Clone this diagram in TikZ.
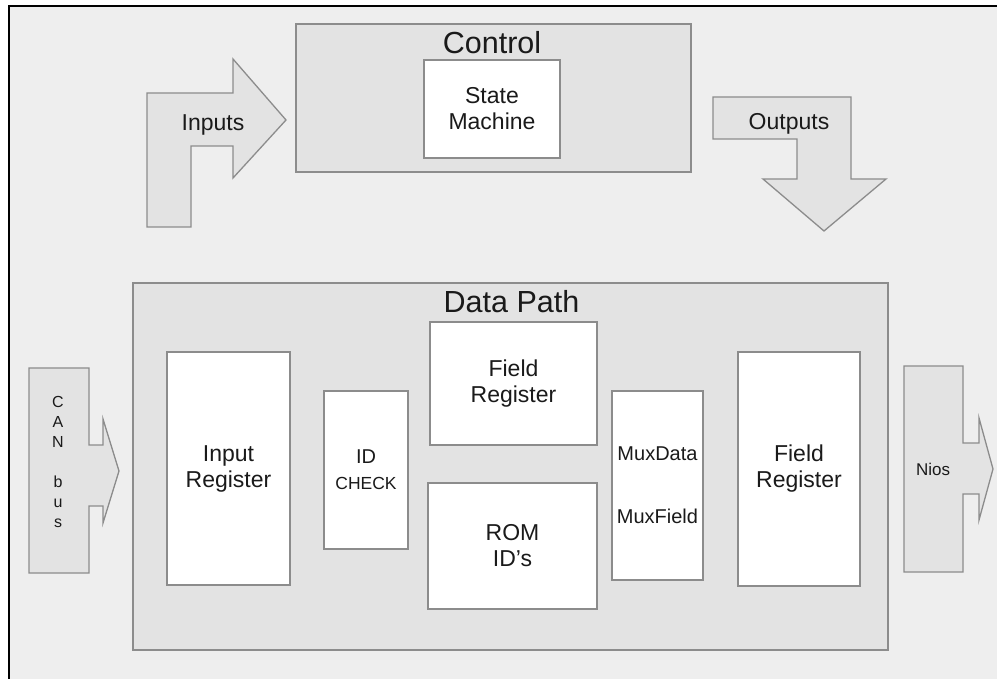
\documentclass[tikz,border=0pt]{standalone}
\usepackage{fontspec}
\setmainfont{Liberation Sans}
\definecolor{pagebg}{HTML}{EEEEEE}
\definecolor{panel}{HTML}{E3E3E3}
\definecolor{edge}{HTML}{8C8C8C}
\definecolor{ink}{HTML}{1A1A1A}
\newcommand{\fsz}[2]{\fontsize{#1}{#2}\selectfont}
\tikzset{
  panelbox/.style={draw=edge, fill=panel, line width=1.5pt, inner sep=0pt},
  whitebox/.style={draw=edge, fill=white, line width=1.5pt, inner sep=0pt,
                   align=center, text=ink, font=\fsz{23}{26}},
  blockarrow/.style={draw=edge, fill=panel, line width=1.3pt, line join=miter},
  title/.style={anchor=base, text=ink, font=\fsz{30.5}{34}, inner sep=0pt},
  label/.style={text=ink, align=center, inner sep=0pt},
}
\begin{document}
\begin{tikzpicture}[x=1pt, y=-1pt]
\useasboundingbox (0,0) rectangle (997,679);
% sheet with its frame
\fill[pagebg] (9,6) rectangle (997,679);
\draw[line width=2pt] (9.3,679) -- (9.3,6) -- (997,6);

% control section
\node[panelbox, minimum width=395pt, minimum height=148pt] (ctrl) at (493.5,98) {};
\node[title] (ctrltitle) at (492,54) {Control};
\node[whitebox, minimum width=136pt, minimum height=98pt] (fsm) at (492,109) {State\\Machine};

% inputs arrow
\draw[blockarrow] (147,227) -- (147,93) -- (233,93) -- (233,59) -- (286,120)
  -- (233,178) -- (233,146) -- (191,146) -- (191,227) -- cycle;
\node[label, font=\fsz{23}{26}, anchor=base] (inlbl) at (213,131) {Inputs};

% outputs arrow
\draw[blockarrow] (713,97) -- (851,97) -- (851,179) -- (886,179) -- (824,231)
  -- (763,179) -- (797,179) -- (797,139) -- (713,139) -- cycle;
\node[label, font=\fsz{23}{26}, anchor=base] (outlbl) at (789,129.5) {Outputs};

% data path section
\node[panelbox, minimum width=755pt, minimum height=367pt] (dp) at (510.5,466.5) {};
\node[title] (dptitle) at (511.5,313) {Data Path};
\node[whitebox, minimum width=123pt, minimum height=233pt] (inreg) at (228.5,468.5) {Input\\Register};
\node[whitebox, minimum width=84pt, minimum height=158pt] (idchk) at (366,470)
  {{\fsz{20}{20}ID}\\{\fsz{17.5}{20}CHECK}};
\node[whitebox, minimum width=167pt, minimum height=123pt] (fregA) at (513.5,383.5) {Field\\Register};
\node[whitebox, minimum width=169pt, minimum height=126pt] (rom) at (512.5,546) {ROM\\ID’s};
\node[whitebox, minimum width=91pt, minimum height=189pt, font=\fsz{20}{25}] (mux) at (657.5,485.5)
  {MuxData\\[38pt]MuxField};
\node[whitebox, minimum width=122pt, minimum height=234pt] (fregB) at (799,469) {Field\\Register};

% CAN bus input arrow
\draw[blockarrow] (29,368) -- (89,368) -- (89,445) -- (103,445) -- (103,419) -- (119,471)
  -- (103,523) -- (103,506) -- (89,506) -- (89,573) -- (29,573) -- cycle;
\node[label, font=\fsz{16}{20}] (canlbl) at (58,462) {C\\A\\N\\[20pt]b\\u\\s};

% Nios output arrow
\draw[blockarrow] (904,366) -- (963,366) -- (963,443) -- (979,443) -- (979,418) -- (993,469)
  -- (979,520) -- (979,494) -- (963,494) -- (963,572) -- (904,572) -- cycle;
\node[label, font=\fsz{17}{20}] (nioslbl) at (933,469) {Nios};
\end{tikzpicture}
\end{document}
